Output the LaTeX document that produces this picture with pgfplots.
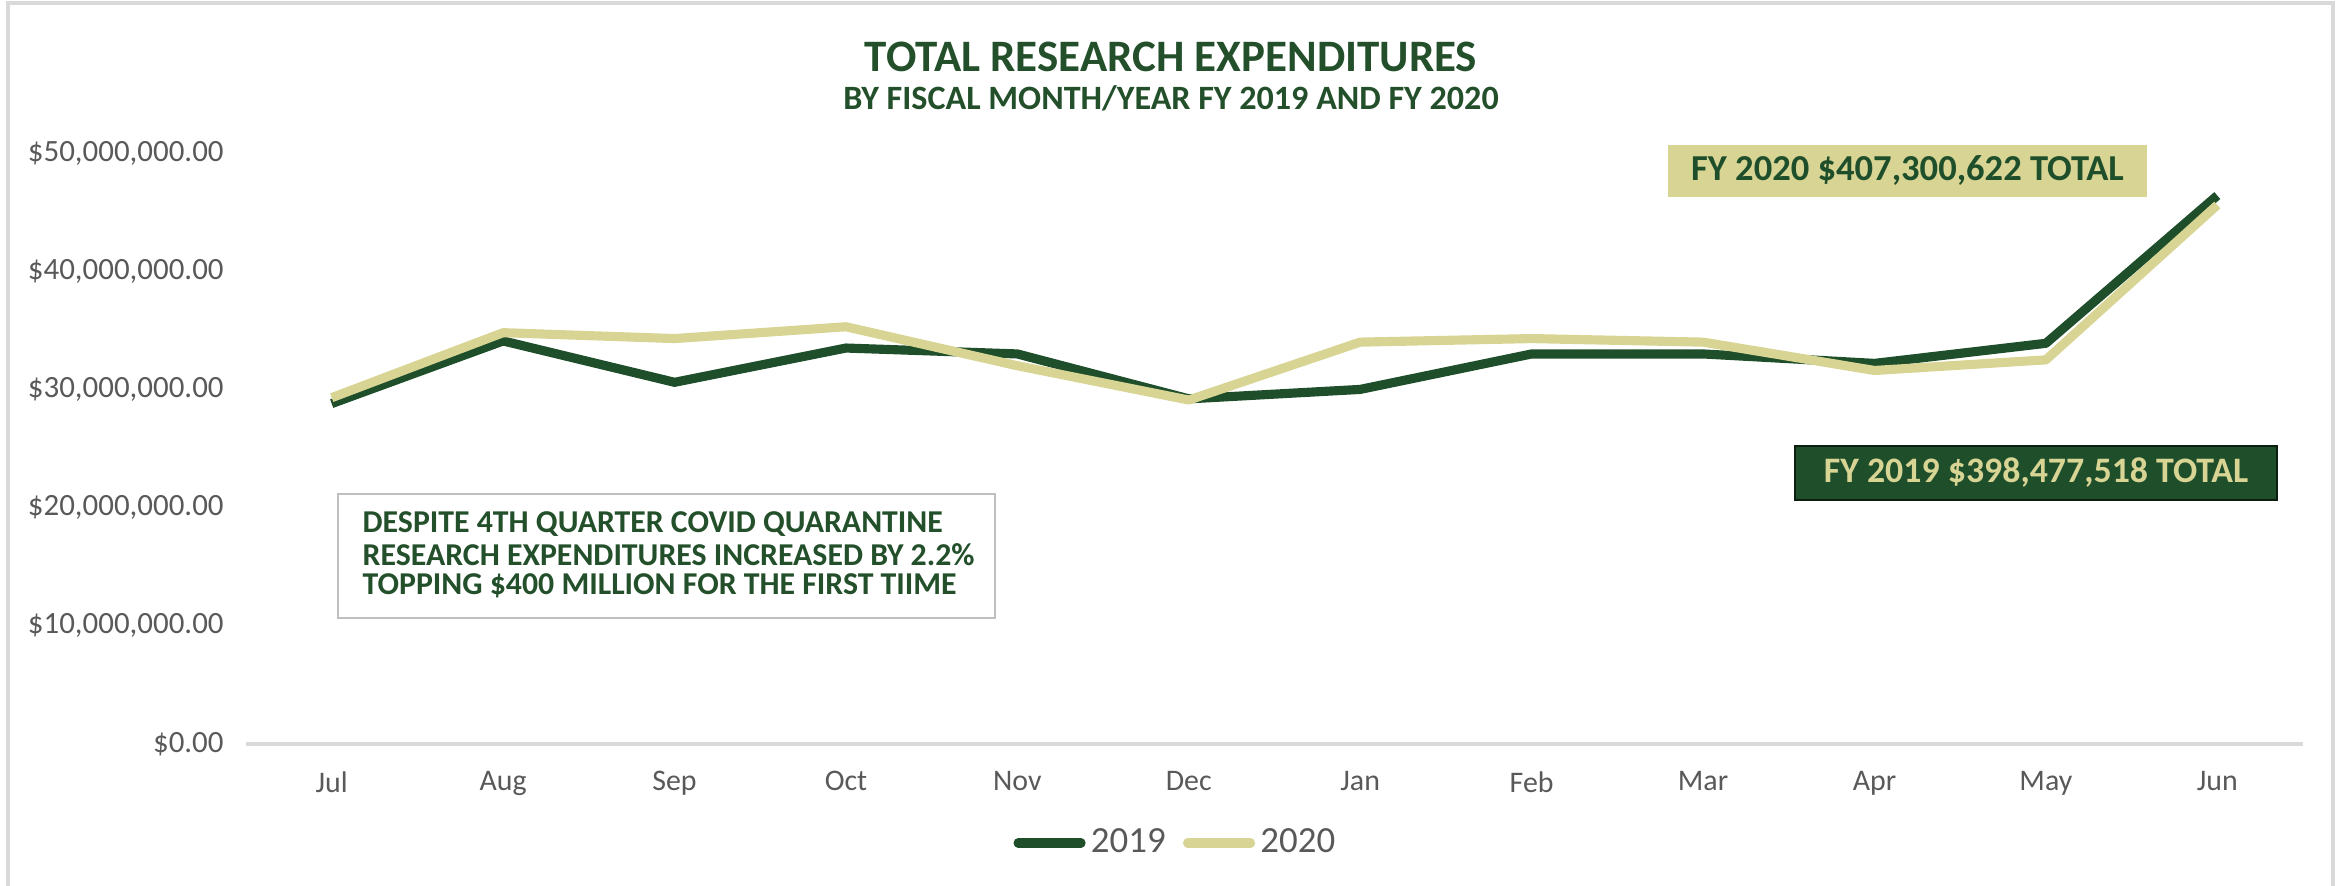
\documentclass[border=0pt]{standalone}
\usepackage{fontspec}
\setmainfont{Carlito}
\usepackage{pgfplots}
\pgfplotsset{compat=1.18}
\definecolor{dkgreen}{HTML}{1F4E2B}
\definecolor{khaki}{HTML}{D8D494}
\definecolor{titlegreen}{HTML}{23502B}
\definecolor{ticklab}{HTML}{595959}
\definecolor{framegray}{HTML}{D9D9D9}
\begin{document}
\begin{tikzpicture}[x=1cm,y=1cm]
\useasboundingbox (0,0) rectangle (23.46,8.86);
\draw[framegray, line width=0.9pt] (0.08,-0.2) -- (0.08,8.83) -- (23.33,8.83) -- (23.33,-0.2);
\begin{axis}[
  at={(2.46cm,1.42cm)}, anchor=south west,
  scale only axis, width=20.57cm, height=5.91cm,
  xmin=-0.5, xmax=11.5, ymin=0, ymax=50000000,
  axis lines*=left,
  x axis line style={framegray, line width=0.9pt},
  y axis line style={draw=none},
  major tick length=0pt,
  xtick={0,...,11},
  xticklabels={Jul,Aug,Sep,Oct,Nov,Dec,Jan,Feb,Mar,Apr,May,Jun},
  ytick={0,10000000,20000000,30000000,40000000,50000000},
  yticklabels={{\$0.00},{\$10,000,000.00},{\$20,000,000.00},{\$30,000,000.00},{\$40,000,000.00},{\$50,000,000.00}},
  scaled y ticks=false,
  yticklabel style={font=\fontsize{8.8}{10}\selectfont, text=ticklab, xshift=-0.1cm},
  xticklabel style={font=\fontsize{8.5}{10}\selectfont, text=ticklab, yshift=-0.15cm},
  legend style={at={(0.4526,-0.1675)}, anchor=center, draw=none, fill=none,
    font=\fontsize{10.5}{12}\selectfont, text=ticklab,
    /tikz/every even column/.append style={column sep=0.12cm},
    nodes={inner xsep=1.5pt}},
  legend columns=2,
  legend image code/.code={\draw[line width=2.6pt, line cap=round, #1] (0cm,0cm) -- (0.63cm,0cm);},
  clip=false,
]
\addplot[dkgreen, line width=2.6pt, line join=round] table[x=x, y=y] {
x y
0 28800000
1 34100000
2 30600000
3 33500000
4 33000000
5 29200000
6 30000000
7 33000000
8 33000000
9 32200000
10 33900000
11 46400000
};
\addlegendentry{2019}
\addplot[khaki, line width=2.6pt, line join=round] table[x=x, y=y] {
x y
0 29300000
1 34800000
2 34300000
3 35300000
4 32000000
5 29100000
6 34000000
7 34300000
8 34000000
9 31600000
10 32500000
11 45600000
};
\addlegendentry{2020}
\end{axis}
\node[font=\fontsize{12.8}{14}\selectfont\bfseries, text=titlegreen] at (11.71,8.295) {TOTAL RESEARCH EXPENDITURES};
\node[font=\fontsize{9.7}{11}\selectfont\bfseries, text=titlegreen] at (11.71,7.875) {BY FISCAL MONTH/YEAR FY 2019 AND FY 2020};
\fill[khaki] (16.68,6.89) rectangle (21.47,7.41);
\node[font=\fontsize{10.4}{11}\selectfont\bfseries, text=dkgreen] at (19.075,7.15) {FY 2020 \$407,300,622 TOTAL};
\filldraw[fill=dkgreen, draw=black!60!dkgreen, line width=0.4pt] (17.95,3.86) rectangle (22.77,4.40);
\node[font=\fontsize{10.2}{11}\selectfont\bfseries, text=khaki] at (20.36,4.13) {FY 2019 \$398,477,518 TOTAL};
\filldraw[fill=white, draw=black!25, line width=0.8pt] (3.38,2.68) rectangle (9.95,3.92);
\node[font=\fontsize{9.05}{10}\selectfont\bfseries, text=titlegreen, anchor=west, inner sep=0pt] at (3.62,3.62) {DESPITE 4TH QUARTER COVID QUARANTINE};
\node[font=\fontsize{9.05}{10}\selectfont\bfseries, text=titlegreen, anchor=west, inner sep=0pt] at (3.62,3.31) {RESEARCH EXPENDITURES INCREASED BY 2.2\%};
\node[font=\fontsize{9.05}{10}\selectfont\bfseries, text=titlegreen, anchor=west, inner sep=0pt] at (3.62,3.00) {TOPPING \$400 MILLION FOR THE FIRST TIIME};
\end{tikzpicture}
\end{document}
